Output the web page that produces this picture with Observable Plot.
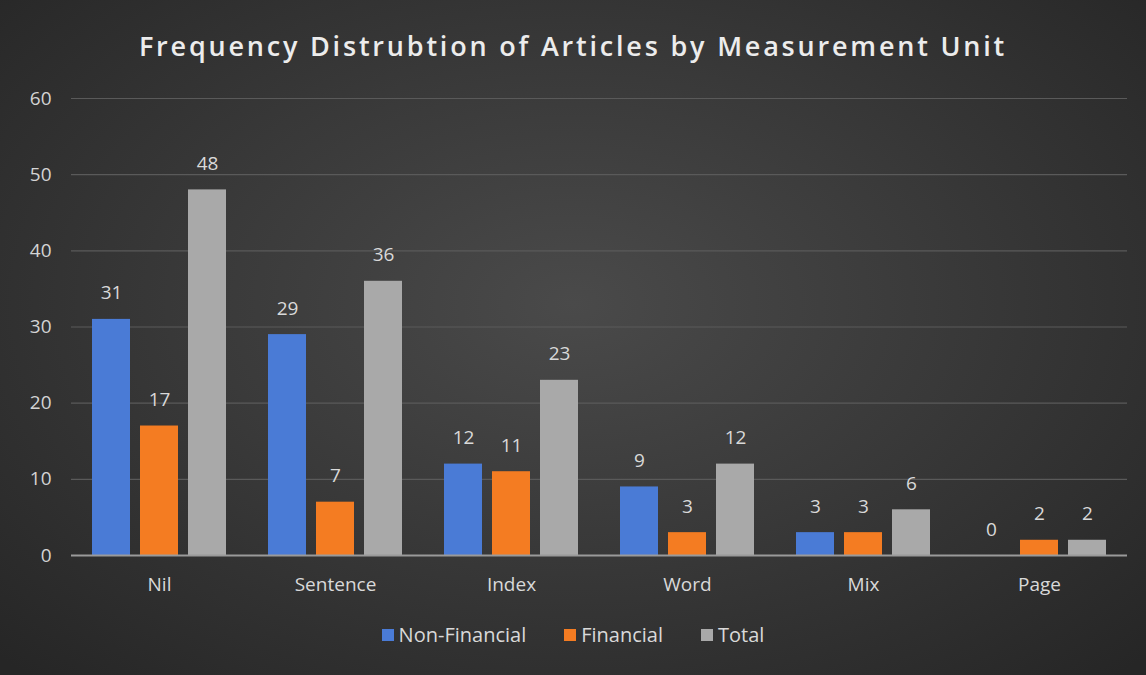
<!DOCTYPE html>
<html>
<head>
<meta charset="utf-8">
<script src="https://cdn.jsdelivr.net/npm/d3@7"></script>
<script src="https://cdn.jsdelivr.net/npm/@observablehq/plot@0.6"></script>
<style>
  html, body { margin: 0; padding: 0; }
  body { width: 1146px; height: 675px; overflow: hidden; }
  #wrap {
    position: relative; width: 1146px; height: 675px;
    background: radial-gradient(ellipse 70% 75% at 50% 45%, #4a4a4a 0%, #3a3a3a 45%, #262626 100%);
    font-family: "Open Sans", sans-serif;
  }
  #title {
    position: absolute; left: 0; top: 27px; width: 1146px; text-align: center;
    color: #ececec; font-size: 27px; font-weight: 600; letter-spacing: 2.8px;
  }
  #chart { position: absolute; left: 0; top: 80px; }
  #legend {
    position: absolute; left: 0; top: 621px; width: 1146px; display: flex; justify-content: center;
    gap: 38px; color: #d9d9d9; font-size: 20px;
  }
  #legend span.sw { display: inline-block; width: 12px; height: 12px; margin-right: 5px; vertical-align: 1px; }
</style>
</head>
<body>
<div id="wrap">
  <div id="title">Frequency Distrubtion of Articles by Measurement Unit</div>
  <div id="chart"></div>
  <div id="legend"></div>
</div>
<script>
const categories = ["Nil", "Sentence", "Index", "Word", "Mix", "Page"];
const series = ["Non-Financial", "Financial", "Total"];
const nonFinancial = [31, 29, 12, 9, 3, 0];
const financial = [17, 7, 11, 3, 3, 2];
const total = [48, 36, 23, 12, 6, 2];
const yTicks = [0, 10, 20, 30, 40, 50, 60];
const colors = ["#4a7bd6", "#f47c22", "#a9a9a9"];

const valuesBySeries = [nonFinancial, financial, total];
const data = [];
categories.forEach((c, i) => {
  series.forEach((s, j) => data.push({category: c, series: s, value: valuesBySeries[j][i]}));
});

const plot = Plot.plot({
  width: 1146,
  height: 530,
  marginTop: 18,
  marginBottom: 55,
  marginLeft: 70,
  marginRight: 18,
  style: {background: "transparent", color: "#d4d4d4", fontFamily: "'Open Sans', sans-serif", fontSize: "19px"},
  fx: {domain: categories, padding: 0, label: null},
  x: {domain: series, paddingInner: 0.2, paddingOuter: 0.4, axis: null},
  y: {domain: [0, 60], label: null},
  color: {domain: series, range: colors},
  marks: [
    Plot.ruleY(yTicks.filter(d => d > 0), {stroke: "#5a5a5a", strokeWidth: 1.2}),
    Plot.axisY({ticks: yTicks, tickSize: 0, tickPadding: 20, textAnchor: "end", fill: "#d4d4d4", fontSize: 19}),
    Plot.axisFx({anchor: "bottom", tickSize: 0, tickPadding: 22, fill: "#d9d9d9", fontSize: 19}),
    Plot.barY(data, {fx: "category", x: "series", y: "value", fill: "series"}),
    Plot.ruleY([0], {stroke: "#9a9a9a", strokeWidth: 2}),
    Plot.text(data, {fx: "category", x: "series", y: "value", text: d => String(d.value), dy: -26, fill: "#d9d9d9", fontSize: 19})
  ]
});
document.getElementById("chart").appendChild(plot);

const legend = document.getElementById("legend");
series.forEach((s, j) => {
  const item = document.createElement("div");
  const sw = document.createElement("span");
  sw.className = "sw";
  sw.style.background = colors[j];
  item.appendChild(sw);
  item.appendChild(document.createTextNode(s));
  legend.appendChild(item);
});
</script>
</body>
</html>
